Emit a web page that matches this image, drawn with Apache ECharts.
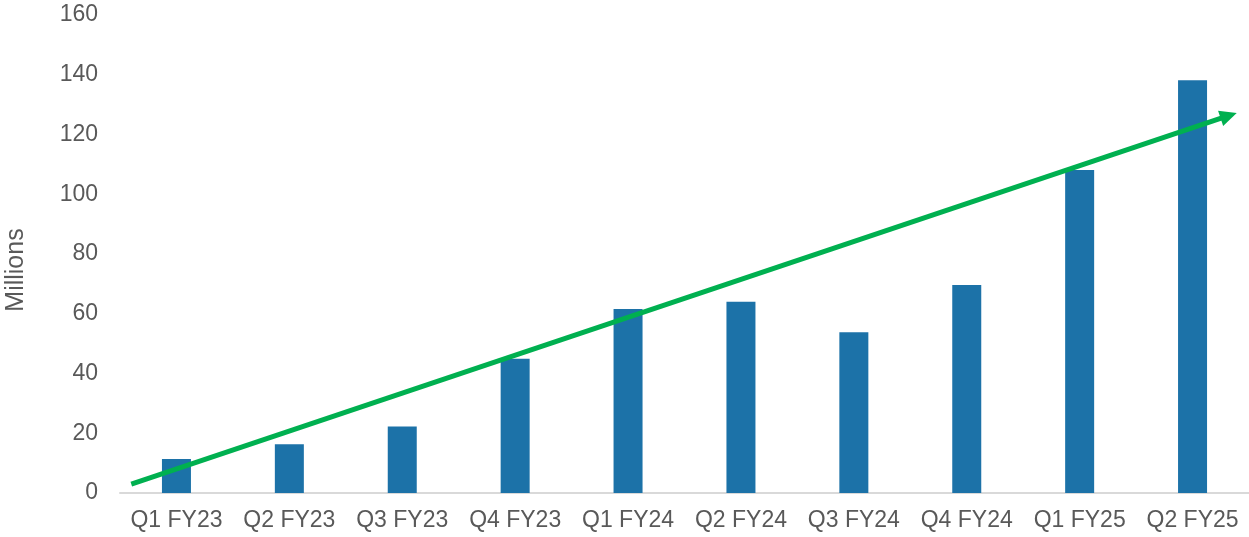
<!DOCTYPE html>
<html>
<head>
<meta charset="utf-8">
<script src="https://cdn.jsdelivr.net/npm/echarts@6/dist/echarts.min.js"></script>
<style>
  html, body { margin: 0; padding: 0; background: #fff; }
  #myChart { width: 1249px; height: 537px; }
</style>
</head>
<body>
<div id="myChart"></div>
<script>
var quarters = ["Q1 FY23", "Q2 FY23", "Q3 FY23", "Q4 FY23", "Q1 FY24", "Q2 FY24", "Q3 FY24", "Q4 FY24", "Q1 FY25", "Q2 FY25"];
var values = [11.4, 16.3, 22.3, 44.9, 61.6, 64.0, 53.8, 69.6, 108.1, 138.2];
// trend arrow: [position along the 10 category slots, value]
var arrowStart = [0.1, 3];
var arrowEnd = [9.82, 126.3];

var myChart = echarts.init(document.getElementById("myChart"));
var textStyle = { color: "#595959", fontSize: 23, fontFamily: "Liberation Sans, Arial, sans-serif" };

var option = {
  animation: false,
  grid: { left: 120, right: 0, top: 15, bottom: 44, outerBoundsMode: "none" },
  xAxis: [
    {
      type: "category",
      data: quarters,
      axisLine: { lineStyle: { color: "#d9d9d9", width: 2 } },
      axisTick: { show: false },
      axisLabel: Object.assign({ margin: 16, interval: 0, hideOverlap: false }, textStyle)
    },
    {
      type: "value",
      min: 0,
      max: 10,
      show: false
    }
  ],
  yAxis: {
    type: "value",
    min: 0,
    max: 160,
    interval: 20,
    name: "Millions",
    nameLocation: "middle",
    nameGap: 91,
    nameRotate: 90,
    nameTextStyle: Object.assign({}, textStyle, { fontSize: 25, padding: [0, 32, 0, 0] }),
    axisLine: { show: false },
    axisTick: { show: false },
    splitLine: { show: false },
    axisLabel: Object.assign({ margin: 22 }, textStyle)
  },
  series: [
    {
      type: "bar",
      data: values,
      barWidth: 29,
      itemStyle: { color: "#1C72A8" }
    },
    {
      type: "line",
      xAxisIndex: 1,
      data: [],
      markLine: {
        silent: true,
        symbol: ["none", "triangle"],
        symbolSize: [16, 17],
        label: { show: false },
        lineStyle: { color: "#00B050", width: 5, type: "solid" },
        data: [[{ coord: arrowStart }, { coord: arrowEnd }]]
      }
    }
  ]
};

myChart.setOption(option);
</script>
</body>
</html>
